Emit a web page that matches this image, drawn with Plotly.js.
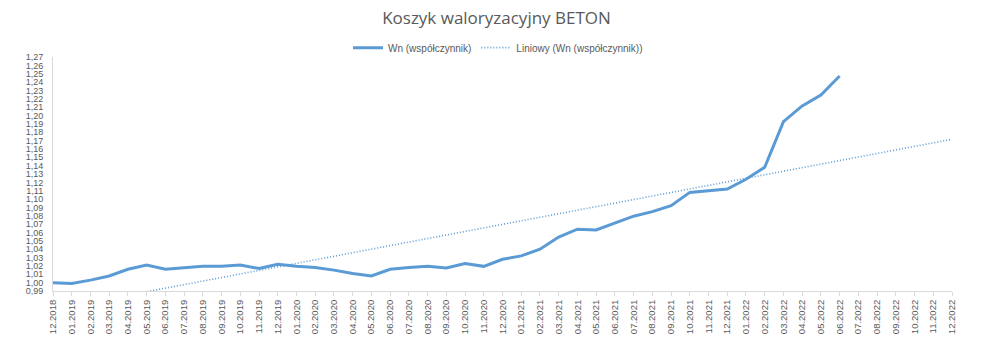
<!DOCTYPE html>
<html>
<head>
<meta charset="utf-8">
<script src="https://cdn.plot.ly/plotly-3.0.1.min.js"></script>
<style>html,body{margin:0;padding:0;background:#fff;}#chart{width:993px;height:358px;}</style>
</head>
<body>
<div id="chart"></div>
<script>
const months = ['12.2018','01.2019','02.2019','03.2019','04.2019','05.2019','06.2019','07.2019','08.2019','09.2019','10.2019','11.2019','12.2019',
'01.2020','02.2020','03.2020','04.2020','05.2020','06.2020','07.2020','08.2020','09.2020','10.2020','11.2020','12.2020',
'01.2021','02.2021','03.2021','04.2021','05.2021','06.2021','07.2021','08.2021','09.2021','10.2021','11.2021','12.2021',
'01.2022','02.2022','03.2022','04.2022','05.2022','06.2022','07.2022','08.2022','09.2022','10.2022','11.2022','12.2022'];
const wnValues = [1.000,0.999,1.003,1.008,1.016,1.021,1.016,1.018,1.0195,1.0195,1.021,1.017,1.022,
1.0195,1.018,1.015,1.011,1.008,1.016,1.018,1.0195,1.0175,1.023,1.0195,1.028,
1.032,1.040,1.0546,1.064,1.063,1.071,1.0795,1.085,1.092,1.108,1.110,1.112,
1.1237,1.138,1.1926,1.2114,1.2245,1.2473];
const trendMonths = ['12.2018','12.2022'];
const trendValues = [0.968,1.1715];
const yTicks = [0.99,1.00,1.01,1.02,1.03,1.04,1.05,1.06,1.07,1.08,1.09,1.10,1.11,1.12,1.13,1.14,1.15,1.16,1.17,1.18,1.19,1.20,1.21,1.22,1.23,1.24,1.25,1.26,1.27];

const blue = '#5B9BD5';
const traces = [
  {x: months.slice(0, wnValues.length), y: wnValues, type:'scatter', mode:'lines', name:'Wn (współczynnik)',
   line:{color:blue, width:3}, hoverinfo:'skip'},
  {x: trendMonths, y: trendValues, type:'scatter', mode:'lines', name:'Liniowy (Wn (współczynnik))',
   line:{color:blue, width:1.6, dash:'1px,2px'}, hoverinfo:'skip'}
];
const layout = {
  width:993, height:358,
  margin:{l:53, r:41, t:57, b:67},
  paper_bgcolor:'#fff', plot_bgcolor:'#fff',
  separators:', ',
  font:{family:'"Liberation Sans", Arial, sans-serif', color:'#595959', size:9},
  title:{text:'Koszyk waloryzacyjny BETON', x:0.5, xanchor:'center', y:0.95, yanchor:'middle', yref:'container',
         font:{family:'"Open Sans", "Liberation Sans", sans-serif', size:17, color:'#595959'}},
  showlegend:true,
  legend:{orientation:'h', x:0.495, xanchor:'center', y:1.04, yanchor:'middle', font:{size:10, color:'#595959'},
          itemwidth:30, tracegroupgap:0, bgcolor:'rgba(0,0,0,0)'},
  xaxis:{type:'category', categoryarray:months, categoryorder:'array', range:[0,48],
         tickangle:-90, showgrid:false, showline:true, linecolor:'#d9d9d9', linewidth:1,
         ticks:'outside', ticklen:4, tickcolor:'#d9d9d9', tickfont:{size:9.5, color:'#595959'}, zeroline:false,
         fixedrange:true},
  yaxis:{range:[0.99,1.27], tickvals:yTicks, tickformat:'.2f', showgrid:false, showline:true,
         linecolor:'#d9d9d9', linewidth:1, ticks:'', ticklabelstandoff:7, tickfont:{size:9, color:'#595959'}, zeroline:false,
         fixedrange:true}
};
Plotly.newPlot('chart', traces, layout, {displayModeBar:false, staticPlot:true});
</script>
</body>
</html>
